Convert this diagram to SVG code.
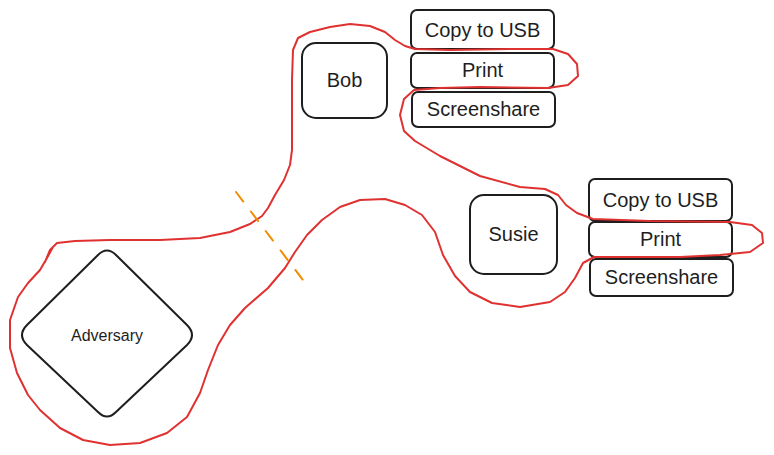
<svg xmlns="http://www.w3.org/2000/svg" width="774" height="455" viewBox="0 0 774 455">
<style>
.box{fill:none;stroke:#1e1e1e;stroke-width:2}
.t{font-family:"Liberation Sans",Arial,sans-serif;font-size:20px;fill:#1e1e1e;text-anchor:middle;dominant-baseline:central}
.loop{fill:none;stroke:#e03131;stroke-width:2;stroke-linejoin:round;stroke-linecap:round}
.cut{fill:none;stroke:#f08c00;stroke-width:2;stroke-dasharray:12 12.5;stroke-linecap:round}
</style>
<rect width="774" height="455" fill="#ffffff"/>
<g id="bob"><rect class="box" x="302" y="43" width="85" height="75" rx="14"/><text class="t" x="344.5" y="80">Bob</text></g>
<g id="bob-usb"><rect class="box" x="411" y="10" width="143" height="39" rx="6"/><text class="t" x="482.5" y="30">Copy to USB</text></g>
<g id="bob-print"><rect class="box" x="411" y="53" width="143" height="35" rx="6"/><text class="t" x="482.5" y="70">Print</text></g>
<g id="bob-screen"><rect class="box" x="412" y="92" width="143" height="35" rx="6"/><text class="t" x="483.5" y="109">Screenshare</text></g>
<g id="susie"><rect class="box" x="470" y="195" width="87" height="79" rx="14"/><text class="t" x="513.5" y="234">Susie</text></g>
<g id="susie-usb"><rect class="box" x="589" y="179" width="143" height="42" rx="6"/><text class="t" x="660.5" y="200">Copy to USB</text></g>
<g id="susie-print"><rect class="box" x="589" y="222" width="143" height="35" rx="6"/><text class="t" x="660.5" y="239">Print</text></g>
<g id="susie-screen"><rect class="box" x="590" y="259" width="143" height="37" rx="6"/><text class="t" x="661.5" y="277">Screenshare</text></g>
<g id="adversary"><path class="box" d="M 98 255 Q 107 246 116 255 L 187 325 Q 197 335 187 345 L 116 412 Q 107 421 98 412 L 27 345 Q 17 335 27 325 Z"/><text class="t" x="107" y="335" style="font-size:16px">Adversary</text></g>
<g id="connectors">
<path class="loop" d="M 45 262 L 50 250 L 57 243 L 75 241 L 110 240 L 160 240 L 200 238 L 230 232 L 250 224 L 262 216 L 268 208 L 275 195 L 284 180 L 290 165 L 292 150 L 292 120 L 292 80 L 293 50 L 298 38 L 310 32 L 330 27 L 350 24 L 370 26 L 385 32 L 395 40 L 405 46 L 415 49 L 450 50 L 510 49 L 553 49 L 568 54 L 577 64 L 578 76 L 568 85 L 548 88 L 480 87 L 440 88 L 414 90 L 404 99 L 400 115 L 404 131 L 415 141 L 440 156 L 480 176 L 520 187 L 545 189 L 558 195 L 566 205 L 577 213 L 593 219 L 650 221 L 730 222 L 752 225 L 762 233 L 763 243 L 750 252 L 720 255 L 680 257 L 630 257 L 594 257 L 583 263 L 575 278 L 565 292 L 550 302 L 520 307 L 492 303 L 470 292 L 455 276 L 443 255 L 435 232 L 422 215 L 405 205 L 385 199 L 360 200 L 340 207 L 322 220 L 307 235 L 295 252 L 285 268 L 268 288 L 245 308 L 230 325 L 218 345 L 208 370 L 200 393 L 187 417 L 167 433 L 140 443 L 110 445 L 83 440 L 60 428 L 40 410 L 28 395 L 17 373 L 10 348 L 10 320 L 18 297 L 28 283 L 40 270 L 47 258 L 53 247"/>
<path class="cut" d="M 236 192 L 303 280"/>
</g>
</svg>
